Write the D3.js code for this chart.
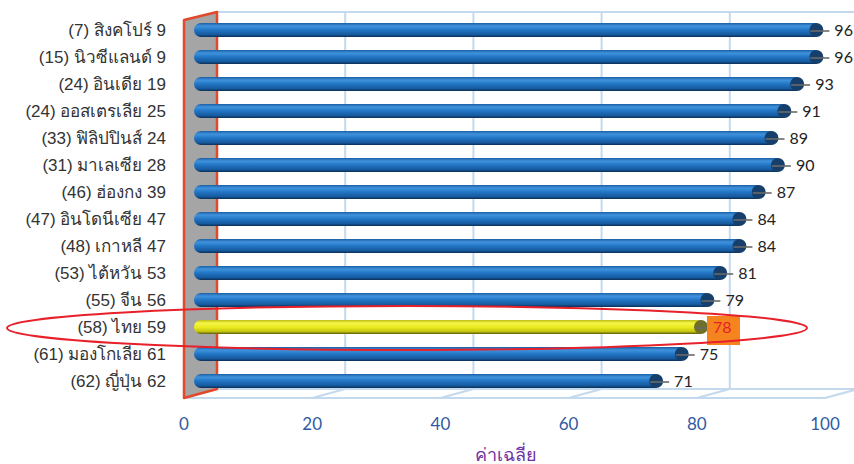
<!DOCTYPE html>
<html>
<head>
<meta charset="utf-8">
<script src="https://cdn.jsdelivr.net/npm/d3@7"></script>
<style>
  body { margin: 0; background: #fff; }
  svg { display: block; }
</style>
</head>
<body>
<div id="chart"></div>
<script>
// ---- data
var labels = ["(7) สิงคโปร์ 9", "(15) นิวซีแลนด์ 9", "(24) อินเดีย 19", "(24) ออสเตรเลีย 25",
              "(33) ฟิลิปปินส์ 24", "(31) มาเลเซีย 28", "(46) ฮ่องกง 39", "(47) อินโดนีเซีย 47",
              "(48) เกาหลี 47", "(53) ไต้หวัน 53", "(55) จีน 56", "(58) ไทย 59",
              "(61) มองโกเลีย 61", "(62) ญี่ปุ่น 62"];
var values = [96, 96, 93, 91, 89, 90, 87, 84, 84, 81, 79, 78, 75, 71];
var highlight = "(58) ไทย 59";
var ticks = [0, 20, 40, 60, 80, 100];
var axisTitle = "ค่าเฉลี่ย";

// ---- setup
var W = 854, H = 464;
var depth = 33, dy = 9;       // 3d offset of back wall
var barOff = 17;              // bars sit in the middle of the depth
var floorY = 398;

var svg = d3.select("#chart").append("svg")
    .attr("width", W).attr("height", H);

var x = d3.scaleLinear().domain([0, 100]).range([184, 825]);
var y = d3.scaleBand().domain(labels).range([16.5, 394.5]);

var defs = svg.append("defs");
function cyl(id, stops) {
  var g = defs.append("linearGradient").attr("id", id)
      .attr("x1", 0).attr("y1", 0).attr("x2", 0).attr("y2", 1);
  stops.forEach(s => g.append("stop").attr("offset", s[0]).attr("stop-color", s[1]));
}
cyl("blue", [[0, "#1c5fa4"], [0.22, "#3f93dd"], [0.5, "#2275c4"], [0.82, "#165a9f"], [1, "#0b2f55"]]);
cyl("yellow", [[0, "#bcbc18"], [0.22, "#f6f648"], [0.55, "#e8e81c"], [0.82, "#c4c412"], [1, "#5a5a0a"]]);

// ---- back wall grid + floor
var grid = svg.append("g").attr("stroke", "#c3d9ee").attr("stroke-width", 2).attr("fill", "none");
grid.append("line").attr("x1", x(0) + depth).attr("x2", W).attr("y1", 12).attr("y2", 12);
grid.selectAll(".vg").data(ticks.slice(1)).join("line")
    .attr("x1", d => x(d) + depth).attr("x2", d => x(d) + depth)
    .attr("y1", 12).attr("y2", floorY - dy);
grid.append("line").attr("x1", x(0)).attr("x2", x(100)).attr("y1", floorY).attr("y2", floorY);
grid.append("line").attr("x1", x(0) + depth).attr("x2", W).attr("y1", floorY - dy).attr("y2", floorY - dy);
grid.selectAll(".dg").data(ticks).join("line")
    .attr("x1", d => x(d)).attr("y1", floorY)
    .attr("x2", d => x(d) + depth).attr("y2", floorY - dy);

// ---- side wall
svg.append("polygon")
    .attr("points", [[x(0), 20], [x(0) + depth, 12], [x(0) + depth, floorY - dy], [x(0), floorY]].join(" "))
    .attr("fill", "#a5a5a5").attr("stroke", "#e2492b").attr("stroke-width", 2.5)
    .attr("stroke-linejoin", "round");

// ---- bars
var bars = svg.append("g").selectAll("g").data(labels).join("g")
    .attr("transform", d => "translate(0," + (y(d) + y.bandwidth() / 2) + ")");
var r = 7;
bars.append("ellipse")
    .attr("cx", x(0) + barOff).attr("cy", 0).attr("rx", r).attr("ry", r)
    .attr("fill", d => d === highlight ? "url(#yellow)" : "url(#blue)");
bars.append("rect")
    .attr("x", x(0) + barOff).attr("y", -r)
    .attr("width", (d, i) => x(values[i]) - x(0)).attr("height", 2 * r)
    .attr("fill", d => d === highlight ? "url(#yellow)" : "url(#blue)");
bars.append("ellipse")
    .attr("cx", (d, i) => x(values[i]) + barOff).attr("cy", 0).attr("rx", r).attr("ry", r)
    .attr("fill", d => d === highlight ? "#6f6f2a" : "#163f6b");
bars.append("line")
    .attr("x1", (d, i) => x(values[i]) + barOff - 6).attr("x2", (d, i) => x(values[i]) + barOff + 13)
    .attr("y1", 1).attr("y2", 1)
    .attr("stroke", "#6a6a6a").attr("stroke-width", 1.6);

// highlight value box
bars.filter(d => d === highlight).append("rect")
    .attr("x", d => x(values[labels.indexOf(d)]) + barOff + 6).attr("y", -11)
    .attr("width", 33).attr("height", 29).attr("fill", "#f5841f");

bars.append("text")
    .attr("x", (d, i) => x(values[i]) + barOff + (d === highlight ? 12 : 18)).attr("y", 6)
    .attr("font-family", "Lato, 'Open Sans', sans-serif").attr("font-size", 16)
    .attr("fill", d => d === highlight ? "#e8202a" : "#222")
    .text((d, i) => values[i]);

// ---- category labels
svg.append("g").selectAll("text").data(labels).join("text")
    .attr("x", 166).attr("y", d => y(d) + y.bandwidth() / 2 + 6)
    .attr("text-anchor", "end")
    .attr("font-family", "'Liberation Sans', Arial, sans-serif").attr("font-size", 17)
    .attr("fill", "#333")
    .text(d => d);

// ---- x tick labels + title
svg.append("g").selectAll("text").data(ticks).join("text")
    .attr("x", d => x(d)).attr("y", 430).attr("text-anchor", "middle")
    .attr("font-family", "Lato, 'Open Sans', sans-serif").attr("font-size", 17)
    .attr("fill", "#2f5aa3")
    .text(d => d);
svg.append("text").attr("x", 506).attr("y", 461).attr("text-anchor", "middle")
    .attr("font-family", "'Liberation Sans', Arial, sans-serif").attr("font-size", 18)
    .attr("fill", "#7030a0").text(axisTitle);

// ---- red ellipse around Thailand
var hy = y(highlight) + y.bandwidth() / 2 + 1;
svg.append("ellipse")
    .attr("cx", 407).attr("cy", hy).attr("rx", 400).attr("ry", 22)
    .attr("fill", "none").attr("stroke", "#e8202a").attr("stroke-width", 2);
</script>
</body>
</html>
